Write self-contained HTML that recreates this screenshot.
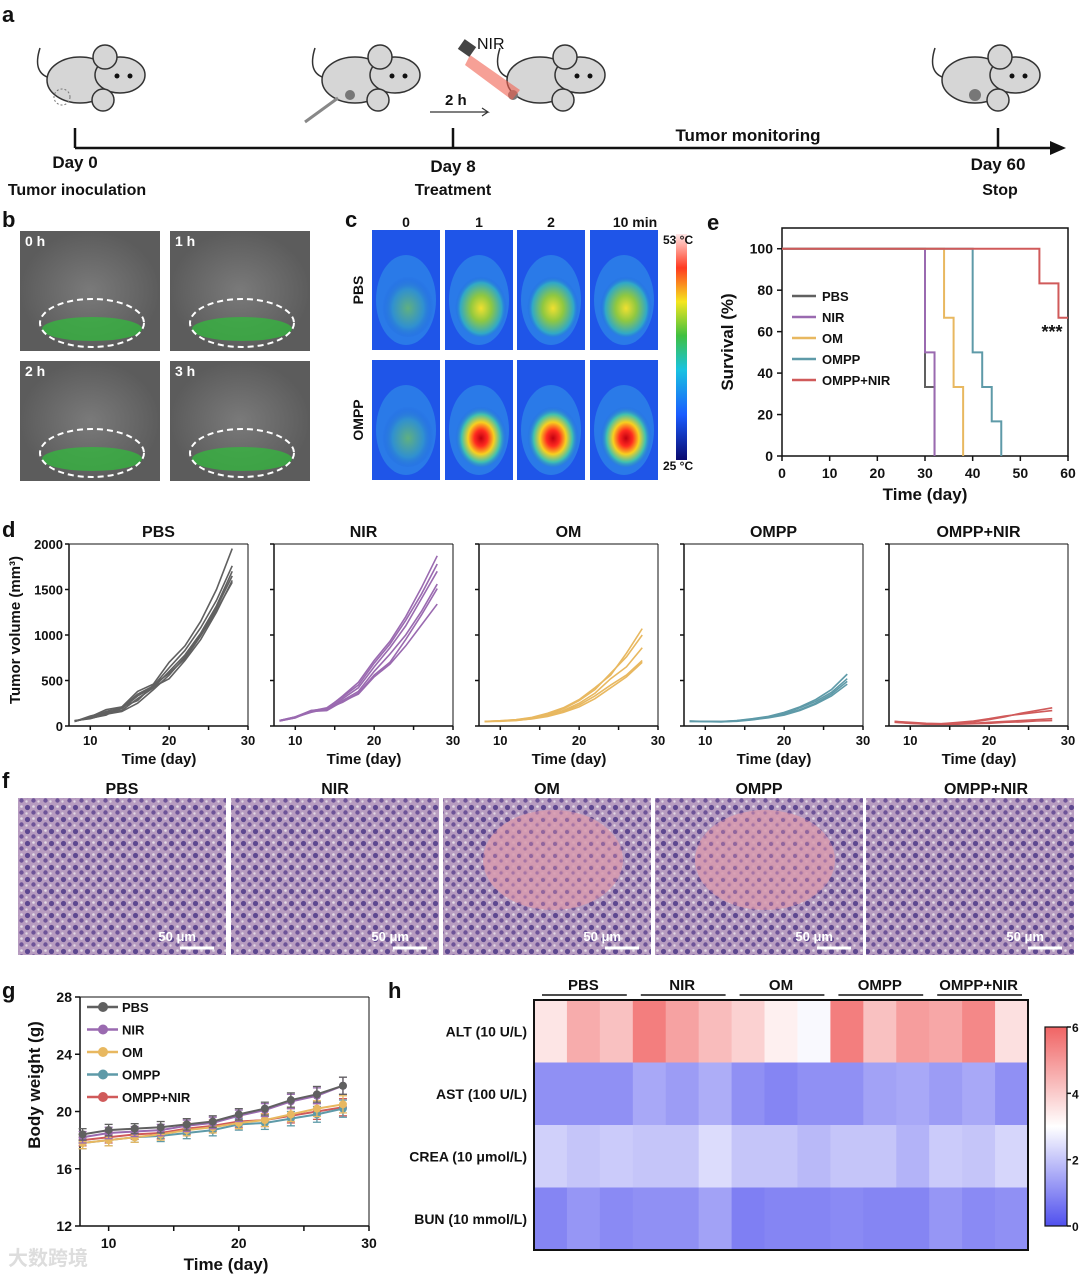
<!DOCTYPE html>
<html><head><meta charset="utf-8"><style>
html,body{margin:0;padding:0;background:#fff}
svg{display:block;font-family:"Liberation Sans",Arial,sans-serif}
</style></head><body>
<svg id="fig" width="1080" height="1277" viewBox="0 0 1080 1277" xmlns="http://www.w3.org/2000/svg">
<defs>
<radialGradient id="gfl" cx="50%" cy="50%" r="50%"><stop offset="0" stop-color="#7a7a7a"/><stop offset="1" stop-color="#5c5c5c"/></radialGradient>
<linearGradient id="thermbar" x1="0" y1="1" x2="0" y2="0">
<stop offset="0" stop-color="#0a0a6e"/><stop offset="0.2" stop-color="#1a5cff"/><stop offset="0.4" stop-color="#19c3e0"/><stop offset="0.55" stop-color="#40c040"/><stop offset="0.7" stop-color="#f5e61e"/><stop offset="0.85" stop-color="#ff3a20"/><stop offset="1" stop-color="#ffe8e8"/></linearGradient>
<radialGradient id="warm" cx="50%" cy="55%" r="50%"><stop offset="0" stop-color="#f0e030"/><stop offset="0.4" stop-color="#90c840"/><stop offset="0.8" stop-color="#30a8c8"/><stop offset="1" stop-color="#2060e0" stop-opacity="0"/></radialGradient>
<radialGradient id="hot" cx="50%" cy="55%" r="50%"><stop offset="0" stop-color="#c00010"/><stop offset="0.25" stop-color="#ff2a20"/><stop offset="0.5" stop-color="#f8d020"/><stop offset="0.75" stop-color="#40c0b0"/><stop offset="1" stop-color="#2060e0" stop-opacity="0"/></radialGradient>
<radialGradient id="mild" cx="50%" cy="55%" r="50%"><stop offset="0" stop-color="#60b080"/><stop offset="0.6" stop-color="#3090d0"/><stop offset="1" stop-color="#2060e0" stop-opacity="0"/></radialGradient>
<linearGradient id="cbar" x1="0" y1="1" x2="0" y2="0"><stop offset="0" stop-color="#5050ee"/><stop offset="0.5" stop-color="#ffffff"/><stop offset="1" stop-color="#f06464"/></linearGradient>
<pattern id="cells" width="12" height="12" patternUnits="userSpaceOnUse">
<rect width="12" height="12" fill="#b79cc0"/><circle cx="3.5" cy="3.5" r="2.6" fill="#5e4890"/><circle cx="9.5" cy="8.5" r="2.2" fill="#6e5498"/><circle cx="9.5" cy="2.5" r="1.3" fill="#e4dce6"/><circle cx="2.5" cy="9.5" r="1.2" fill="#e2d8e4"/></pattern>
<pattern id="cells2" width="12" height="12" patternUnits="userSpaceOnUse">
<rect width="12" height="12" fill="#d89aae"/><circle cx="3" cy="4" r="2" fill="#9a6aa0"/><circle cx="9" cy="9" r="1.6" fill="#b07aa8"/></pattern>
</defs>
<g id="panelA"></g>
<g id="panelB"></g>
<g id="panelC"></g>
<g id="panelE"></g>
<g id="panelD"></g>
<g id="panelF"></g>
<g id="panelG"></g>
<g id="panelH"></g>
</svg>
<script>
// ---------- data ----------
const tumorDays = [8,10,12,14,16,18,20,22,24,26,28];
const groups = ["PBS","NIR","OM","OMPP","OMPP+NIR"];
const groupColors = ["#606060","#9a6ab0","#e8b860","#5e9aa8","#d05a5a"];
const tumorPBS = [[50,100,180,210,380,460,700,880,1150,1500,1950],[55,90,160,200,350,440,640,830,1080,1380,1760],[50,110,150,170,300,420,600,780,1020,1320,1700],[60,80,130,160,250,400,560,760,1000,1300,1650],[50,95,140,190,330,430,520,720,950,1250,1600],[55,85,120,210,280,450,580,740,990,1270,1580]];
const tumorNIR = [[60,100,170,190,330,480,720,930,1200,1520,1870],[55,95,165,200,320,450,690,900,1160,1450,1780],[60,100,160,180,300,420,650,860,1100,1400,1700],[55,90,170,175,280,380,600,790,1000,1260,1560],[60,95,150,190,260,360,560,700,950,1220,1510],[55,90,160,170,270,350,540,680,880,1110,1340]];
const tumorOM = [[50,58,70,95,140,200,290,420,560,800,1070],[50,55,68,90,130,190,280,400,580,760,1000],[50,55,65,85,120,170,250,360,520,650,860],[50,52,60,80,110,160,230,330,450,560,720],[50,54,62,78,105,150,210,300,420,540,700]];
const tumorOMPP = [[55,50,48,60,80,105,150,210,290,400,570],[50,52,50,58,75,100,140,200,270,370,520],[55,48,45,55,70,95,130,180,250,350,490],[50,50,47,52,68,90,120,170,240,330,460]];
const tumorOMPPNIR = [[50,35,25,20,30,45,70,100,140,170,200],[45,30,22,25,40,55,80,110,130,150,170],[50,40,30,25,25,30,40,50,60,70,80],[40,30,20,18,20,25,30,40,45,55,60]];
const tumorSets = [tumorPBS,tumorNIR,tumorOM,tumorOMPP,tumorOMPPNIR];
const survivalSteps = {
 "PBS":[[0,100],[30,33.3],[32,0]],
 "NIR":[[0,100],[30,50],[32,0]],
 "OM":[[0,100],[34,66.7],[36,33.3],[38,0]],
 "OMPP":[[0,100],[40,50],[42,33.3],[44,16.7],[46,0]],
 "OMPP+NIR":[[0,100],[54,83.3],[58,66.7],[60,66.7]]
};
const survivalTicksX = [0,10,20,30,40,50,60];
const survivalTicksY = [0,20,40,60,80,100];
const weightDays = [8,10,12,14,16,18,20,22,24,26,28];
const weightPBS = [18.4,18.7,18.8,18.9,19.1,19.3,19.8,20.2,20.8,21.2,21.8];
const weightNIR = [18.2,18.5,18.6,18.7,19.0,19.2,19.7,20.1,20.7,21.1,21.8];
const weightOM = [17.8,18.0,18.2,18.4,18.7,18.9,19.2,19.4,19.8,20.2,20.5];
const weightOMPP = [17.8,18.0,18.2,18.3,18.5,18.7,19.1,19.2,19.5,19.8,20.2];
const weightOMPPNIR = [18.0,18.2,18.4,18.5,18.8,19.0,19.3,19.4,19.7,20.0,20.3];
const weightErr = [0.4,0.4,0.35,0.4,0.4,0.4,0.4,0.45,0.5,0.55,0.6];
const weightSets = [weightPBS,weightNIR,weightOM,weightOMPP,weightOMPPNIR];
const weightTicksY = [12,16,20,24,28];
const heatRows = ["ALT (10 U/L)","AST (100 U/L)","CREA (10 μmol/L)","BUN (10 mmol/L)"];
const heatALT = [3.5,4.6,4.2,5.5,4.8,4.3,3.9,3.3,2.9,5.5,4.2,4.9,4.7,5.3,3.6];
const heatAST = [1.1,1.1,1.1,1.5,1.3,1.6,1.1,0.9,1.1,1.1,1.4,1.5,1.3,1.5,1.1];
const heatCREA = [2.2,2.0,2.1,2.0,2.0,2.4,2.0,2.0,1.8,2.0,2.0,1.7,2.1,2.0,2.3];
const heatBUN = [0.9,1.2,1.0,1.1,1.1,1.4,0.8,0.9,0.9,1.0,0.9,0.9,1.2,1.0,1.1];
const heatData = [heatALT,heatAST,heatCREA,heatBUN];
const heatTicks = [0,2,4,6];

// ---------- helpers ----------
const NS="http://www.w3.org/2000/svg";
function el(parent,tag,attrs,text){const e=document.createElementNS(NS,tag);for(const k in attrs)e.setAttribute(k,attrs[k]);if(text!==undefined)e.textContent=text;parent.appendChild(e);return e;}
function txt(p,x,y,s,size,anchor,weight,name,extra){const t=el(p,"text",Object.assign({x:x,y:y,"font-size":size,"text-anchor":anchor||"start","font-weight":weight||"bold",fill:"#111"},extra||{}),s);


return t;}
function line(p,x1,y1,x2,y2,stroke,w){return el(p,"line",{x1,y1,x2,y2,stroke:stroke||"#111","stroke-width":w||1.5});}

// ---------- panel a ----------
const A=document.getElementById("panelA");
txt(A,2,22,"a",22,"start","bold","panel-letter-a");
function mouse(cx,cy){const g=el(A,"g",{});


el(g,"path",{d:`M${cx-45},${cy+8} q-18,-5 -10,-30`,fill:"none",stroke:"#333","stroke-width":1.5});
el(g,"ellipse",{cx:cx-15,cy:cy+10,rx:33,ry:23,fill:"#d6d6d6",stroke:"#333","stroke-width":1.5});
el(g,"ellipse",{cx:cx+25,cy:cy+5,rx:25,ry:18,fill:"#d6d6d6",stroke:"#333","stroke-width":1.5});
el(g,"circle",{cx:cx+10,cy:cy-13,r:12,fill:"#d6d6d6",stroke:"#333","stroke-width":1.5});
el(g,"circle",{cx:cx+8,cy:cy+30,r:11,fill:"#d6d6d6",stroke:"#333","stroke-width":1.5});
el(g,"circle",{cx:cx+35,cy:cy+6,r:2.5,fill:"#111"});el(g,"circle",{cx:cx+22,cy:cy+6,r:2.5,fill:"#111"});
return g;}
mouse(95,70);mouse(370,70);mouse(555,70);mouse(990,70);
el(A,"circle",{cx:62,cy:97,r:8,fill:"none",stroke:"#777","stroke-dasharray":"2,2"});
el(A,"circle",{cx:350,cy:95,r:5,fill:"#777"});el(A,"circle",{cx:513,cy:95,r:5,fill:"#777"});el(A,"circle",{cx:975,cy:95,r:6,fill:"#777"});
el(A,"polygon",{points:"470,55 520,90 512,100 465,65",fill:"#f06050",opacity:0.6});
el(A,"rect",{x:460,y:42,width:14,height:12,fill:"#444",transform:"rotate(35 467 48)"});
txt(A,477,49,"NIR",16,"start","normal","nir-label");
line(A,305,122,338,98,"#888",3);
txt(A,445,105,"2 h",15,"start","bold","2h-label");
el(A,"path",{d:"M430,112 H488 l-6,-4 M488,112 l-6,4",stroke:"#333",fill:"none","stroke-width":1.2});
line(A,75,148,1055,148,"#111",2.5);
el(A,"polygon",{points:"1050,141 1066,148 1050,155",fill:"#111"});
[75,453,998].forEach(x=>line(A,x,128,x,148,"#111",2.5));
txt(A,75,168,"Day 0",17,"middle","bold","day0-label");
txt(A,453,172,"Day 8",17,"middle","bold","day8-label");
txt(A,998,170,"Day 60",17,"middle","bold","day60-label");
txt(A,77,195,"Tumor inoculation",16,"middle","bold","tumor-inoculation-label");
txt(A,453,195,"Treatment",16,"middle","bold","treatment-label");
txt(A,1000,195,"Stop",16,"middle","bold","stop-label");
txt(A,748,141,"Tumor monitoring",17,"middle","bold","tumor-monitoring-label");

// ---------- panel b ----------
const B=document.getElementById("panelB");
txt(B,2,227,"b",22,"start","bold","panel-letter-b");
[["0 h",20,231],["1 h",170,231],["2 h",20,361],["3 h",170,361]].forEach(([l,x,y])=>{
 const r=el(B,"rect",{x:x,y:y,width:140,height:120,fill:"url(#gfl)"});
 
 
 el(B,"ellipse",{cx:x+72,cy:y+98,rx:50,ry:12,fill:"#2fbf3a",opacity:0.7});
 el(B,"ellipse",{cx:x+72,cy:y+92,rx:52,ry:24,fill:"none",stroke:"#fff","stroke-width":2,"stroke-dasharray":"6,4"});
 txt(B,x+5,y+15,l,14,"start","bold","time-label",{fill:"#fff"});
});

// ---------- panel c ----------
const C=document.getElementById("panelC");
txt(C,345,227,"c",22,"start","bold","panel-letter-c");
const cx0=[372,445,517,590], ctitles=["0","1","2","10 min"];
ctitles.forEach((t,i)=>txt(C,cx0[i]+(i==3?45:34),227,t,14,"middle","bold","thermal-time-label"));
[[230,["mild","warm","warm","warm"]],[360,["mild","hot","hot","hot"]]].forEach(([y,gr])=>{
 cx0.forEach((x,i)=>{
  const r=el(C,"rect",{x:x,y:y,width:68,height:120,fill:"#1f55e8"});
  
  
  el(C,"ellipse",{cx:x+34,cy:y+70,rx:30,ry:45,fill:"#2a7ae8"});
  el(C,"ellipse",{cx:x+36,cy:y+75,rx:26,ry:32,fill:"url(#"+gr[i]+")"});
 });
});
txt(C,0,0,"PBS",14,"middle","bold","row-label-pbs",{transform:"translate(363,290) rotate(-90)"});
txt(C,0,0,"OMPP",14,"middle","bold","row-label-ompp",{transform:"translate(363,420) rotate(-90)"});
el(C,"rect",{x:676,y:234,width:11,height:226,fill:"url(#thermbar)"});
txt(C,663,244,"53 °C",12,"start","bold","temp-max");
txt(C,663,470,"25 °C",12,"start","bold","temp-min");

// ---------- panel e ----------
const E=document.getElementById("panelE");
txt(E,707,230,"e",22,"start","bold","panel-letter-e");
const eL=782,eR=1068,eT=228,eB=456;
const ex=v=>eL+(v/60)*(eR-eL), ey=v=>eB-(v/110)*(eB-eT);
el(E,"rect",{x:eL,y:eT,width:eR-eL,height:eB-eT,fill:"none",stroke:"#111","stroke-width":1.5});
survivalTicksX.forEach(v=>{line(E,ex(v),eB,ex(v),eB+5);txt(E,ex(v),eB+22,String(v),14,"middle","bold","x-tick-label");});
survivalTicksY.forEach(v=>{line(E,eL-5,ey(v),eL,ey(v));txt(E,eL-9,ey(v)+5,String(v),14,"end","bold","y-tick-label");});
txt(E,925,500,"Time (day)",17,"middle","bold","x-axis-title");
txt(E,0,0,"Survival (%)",17,"middle","bold","y-axis-title",{transform:"translate(733,342) rotate(-90)"});
groups.forEach((g,gi)=>{
 const st=survivalSteps[g];let d=`M${ex(st[0][0])},${ey(st[0][1])}`;
 for(let i=1;i<st.length;i++){d+=` H${ex(st[i][0])} V${ey(st[i][1])}`;}
 if(g==="OMPP+NIR")d+=` H${ex(60)}`;
 const p=el(E,"path",{d:d,fill:"none",stroke:groupColors[gi],"stroke-width":2});
 
 
 line(E,792,296+gi*21,816,296+gi*21,groupColors[gi],2.5);
 txt(E,822,301+gi*21,g,13,"start","bold","legend-entry");
});
txt(E,1052,338,"***",18,"middle","bold","significance-marker");

// ---------- panel d ----------
const D=document.getElementById("panelD");
txt(D,2,537,"d",22,"start","bold","panel-letter-d");
const dT=544,dB=726,dW=179,dLs=[69,274,479,684,889];
txt(D,0,0,"Tumor volume (mm³)",15,"middle","bold","y-axis-title",{transform:"translate(20,630) rotate(-90)"});
dLs.forEach((L,gi)=>{
 const dx=v=>L+((v-7.3)/(30-7.3))*dW, dy=v=>dB-(v/2000)*(dB-dT);
 txt(D,L+dW/2,537,groups[gi],16,"middle","bold","subplot-title");
 line(D,L,dT,L,dB);line(D,L,dB,L+dW,dB);
 el(D,"line",{x1:L,y1:dT,x2:L+dW,y2:dT,stroke:"#111","stroke-width":1});
 el(D,"line",{x1:L+dW,y1:dT,x2:L+dW,y2:dB,stroke:"#111","stroke-width":1});
 [0,500,1000,1500,2000].forEach(v=>{line(D,L-4,dy(v),L,dy(v));if(gi==0)txt(D,L-6,dy(v)+5,String(v),13,"end","bold","y-tick-label");});
 [10,15,20,25,30].forEach(v=>{line(D,dx(v),dB,dx(v),dB+4);if(v%10==0)txt(D,dx(v),dB+19,String(v),13,"middle","bold","x-tick-label");});
 txt(D,L+90,764,"Time (day)",15,"middle","bold","x-axis-title");
 tumorSets[gi].forEach(c=>{
  const pl=el(D,"polyline",{points:c.map((v,i)=>dx(tumorDays[i])+","+dy(v)).join(" "),fill:"none",stroke:groupColors[gi],"stroke-width":1.6});
  
  
 });
});

// ---------- panel f ----------
const F=document.getElementById("panelF");
txt(F,2,788,"f",22,"start","bold","panel-letter-f");
const fx=[18,231,443,655,866];
fx.forEach((x,i)=>{
 txt(F,x+(i==4?120:104),794,groups[i],16,"middle","bold","histology-title");
 const r=el(F,"rect",{x:x,y:798,width:208,height:157,fill:"url(#cells)"});
 
 
 if(i==2||i==3) el(F,"ellipse",{cx:x+110,cy:860,rx:70,ry:50,fill:"url(#cells2)",opacity:0.85});
 txt(F,x+178,941,"50 μm",13,"end","bold","scale-bar-label",{fill:"#fff"});
 line(F,x+162,948,x+196,948,"#fff",3);
});

// ---------- panel g ----------
const G=document.getElementById("panelG");
txt(G,2,998,"g",22,"start","bold","panel-letter-g");
const gL=80,gR=369,gT=997,gB=1226;
const gx=v=>gL+((v-7.8)/(30-7.8))*(gR-gL), gy=v=>gB-((v-12)/16)*(gB-gT);
line(G,gL,gT,gL,gB);line(G,gL,gB,gR,gB);
el(G,"line",{x1:gL,y1:gT,x2:gR,y2:gT,stroke:"#111","stroke-width":1});
el(G,"line",{x1:gR,y1:gT,x2:gR,y2:gB,stroke:"#111","stroke-width":1});
weightTicksY.forEach(v=>{line(G,gL-5,gy(v),gL,gy(v));txt(G,gL-8,gy(v)+5,String(v),14,"end","bold","y-tick-label");});
[10,15,20,25,30].forEach(v=>{line(G,gx(v),gB,gx(v),gB+5);if(v%10==0)txt(G,gx(v),gB+22,String(v),14,"middle","bold","x-tick-label");});
txt(G,226,1270,"Time (day)",17,"middle","bold","x-axis-title");
txt(G,0,0,"Body weight (g)",17,"middle","bold","y-axis-title",{transform:"translate(40,1085) rotate(-90)"});
[4,3,2,1,0].forEach(gi=>{
 const s=weightSets[gi];
 const col=groupColors[gi];
 s.forEach((v,i)=>{const x=gx(weightDays[i]);line(G,x,gy(v-weightErr[i]),x,gy(v+weightErr[i]),col,1.3);line(G,x-4,gy(v+weightErr[i]),x+4,gy(v+weightErr[i]),col,1.3);line(G,x-4,gy(v-weightErr[i]),x+4,gy(v-weightErr[i]),col,1.3);});
 const pl=el(G,"polyline",{points:s.map((v,i)=>gx(weightDays[i])+","+gy(v)).join(" "),fill:"none",stroke:col,"stroke-width":2});
 
 
 s.forEach((v,i)=>el(G,"circle",{cx:gx(weightDays[i]),cy:gy(v),r:4,fill:col}));
 const ly=1007+gi*22.5;
 line(G,87,ly,118,ly,col,2.5);el(G,"circle",{cx:103,cy:ly,r:5,fill:col});
 txt(G,122,ly+5,groups[gi],13,"start","bold","legend-entry");
});
txt(G,8,1265,"大数跨境",20,"start","bold","watermark",{fill:"#ddd",style:'font-family:"Liberation Sans","Noto Sans CJK SC",sans-serif'});

// ---------- panel h ----------
const H=document.getElementById("panelH");
txt(H,388,998,"h",22,"start","bold","panel-letter-h");
const hL=534,hR=1028,hT=1000,hB=1250,nC=15;
const cw=(hR-hL)/nC, rh=(hB-hT)/4;
function hcol(v){const lo=[80,80,238],mid=[255,255,255],hi=[240,100,100];let a,b,t;
 if(v<3){a=lo;b=mid;t=v/3;}else{a=mid;b=hi;t=(v-3)/3;}t=Math.max(0,Math.min(1,t));
 return `rgb(${a.map((c,i)=>Math.round(c+(b[i]-c)*t)).join(",")})`;}
heatData.forEach((row,ri)=>{
 row.forEach((v,ci)=>{const r=el(H,"rect",{x:hL+ci*cw,y:hT+ri*rh,width:cw+0.5,height:rh+0.5,fill:hcol(v)});
  
  });
 txt(H,527,hT+ri*rh+rh/2+5,heatRows[ri],14,"end","bold","row-label",{style:'font-family:"Liberation Sans","Noto Sans CJK SC",sans-serif'});
});
el(H,"rect",{x:hL,y:hT,width:hR-hL,height:hB-hT,fill:"none",stroke:"#111","stroke-width":2});
groups.forEach((g,i)=>{const x0=hL+i*3*cw;line(H,x0+8,995,x0+3*cw-6,995,"#111",1.5);txt(H,x0+1.5*cw,990,g,15,"middle","bold","group-label");});
const cT=1027,cB=1226;
const cb=el(H,"rect",{x:1045,y:cT,width:22,height:cB-cT,fill:"url(#cbar)",stroke:"#111","stroke-width":1.2});


heatTicks.forEach(v=>{const y=cB-(v/6)*(cB-cT);line(H,1067,y,1071,y);txt(H,1072,y+5,String(v),12,"start","bold","colorbar-tick");});
</script>
</body></html>
